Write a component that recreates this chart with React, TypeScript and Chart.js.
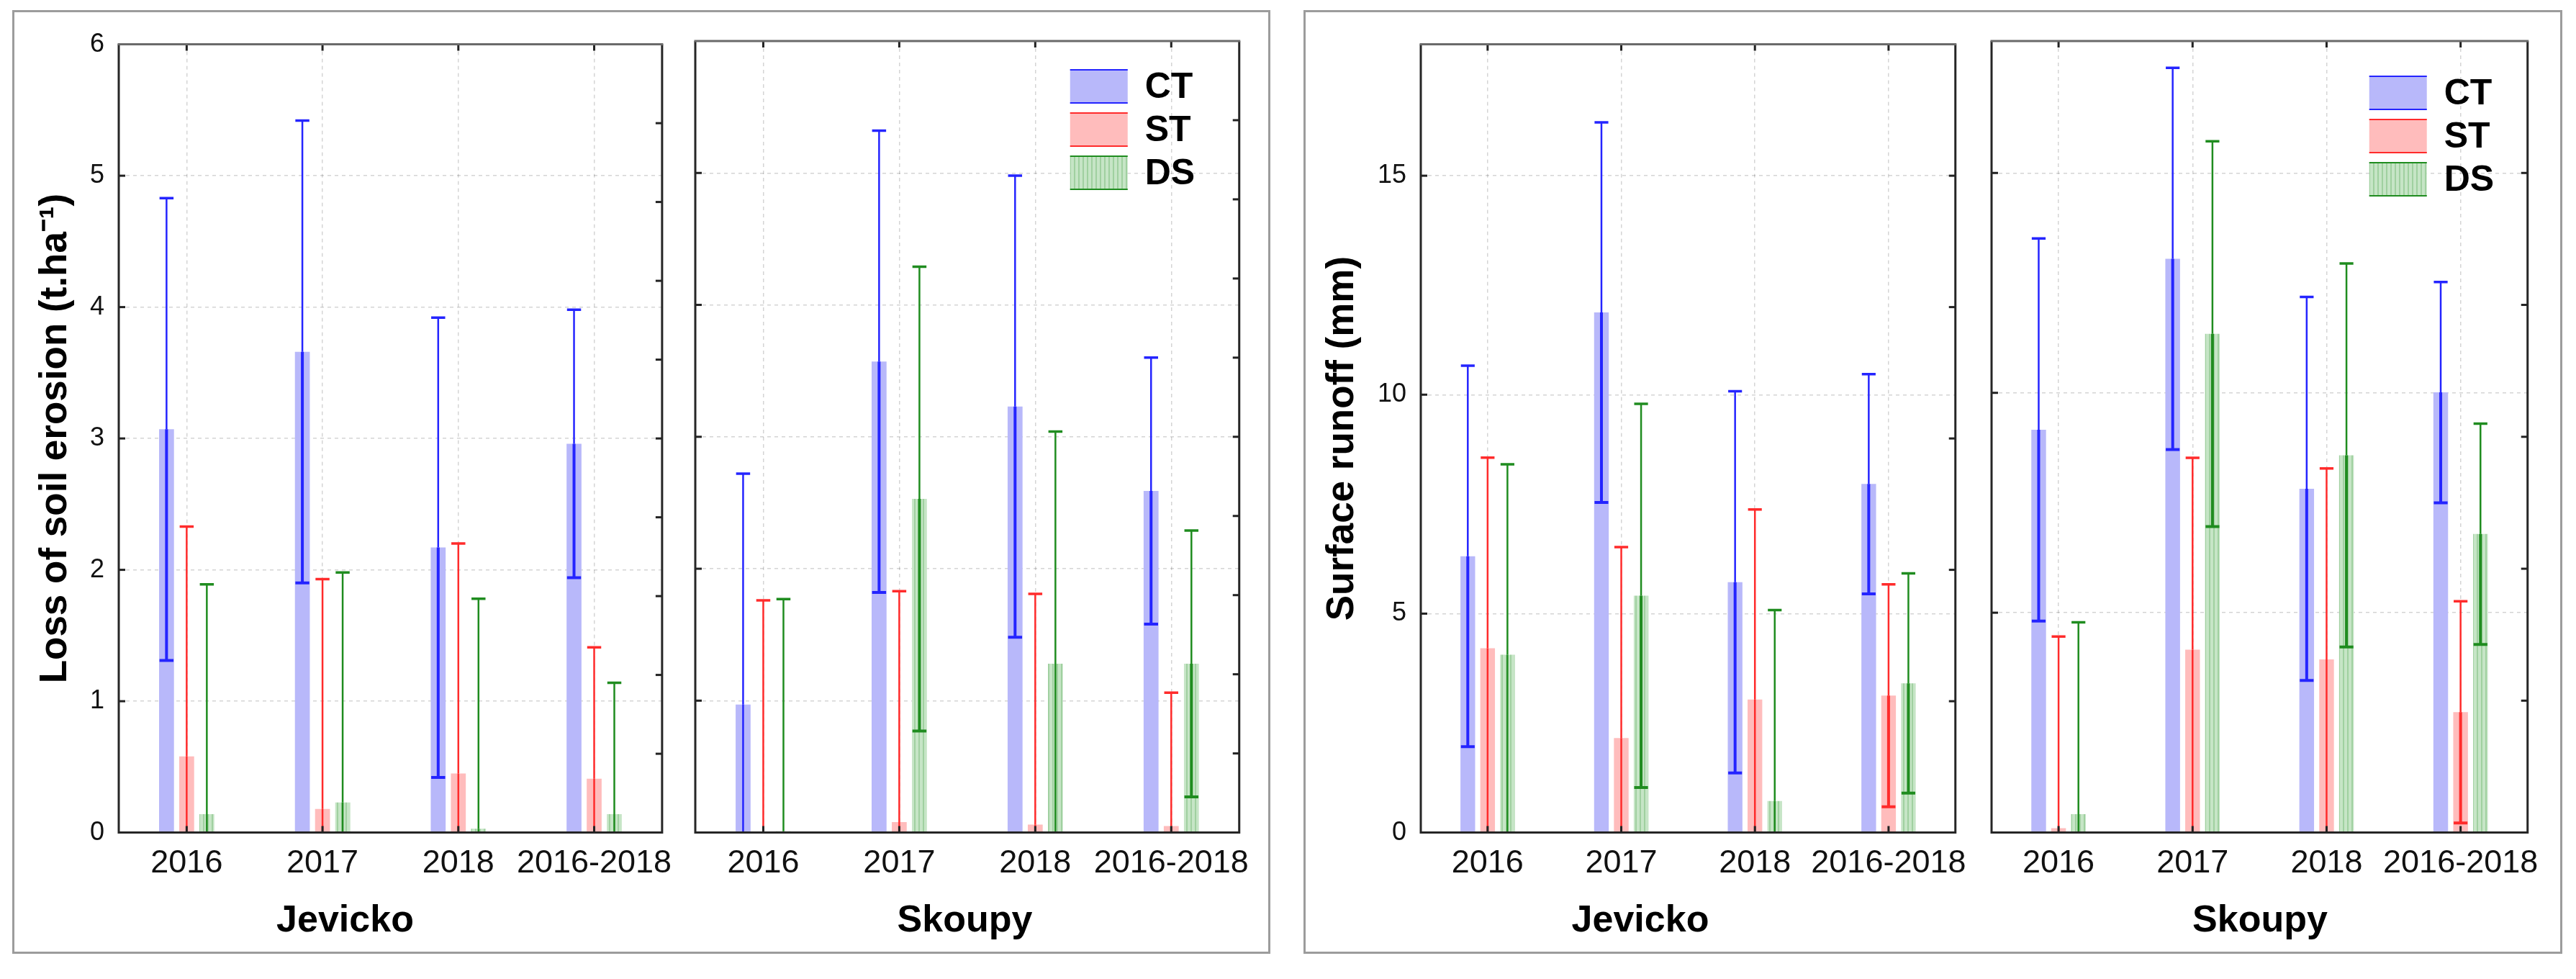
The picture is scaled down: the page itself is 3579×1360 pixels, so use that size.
import React, { useEffect, useRef } from 'react';
import { Chart, registerables } from 'chart.js';

Chart.register(...registerables);

// ---------------- DATA ----------------
const categories = ['2016', '2017', '2018', '2016-2018'];
const seriesNames = ['CT', 'ST', 'DS'];

// Loss of soil erosion (t.ha-1) — means and error half-widths
const erosionJevickoCT = [3.07, 3.66, 2.17, 2.96];
const erosionJevickoCTErr = [1.76, 1.76, 1.75, 1.02];
const erosionJevickoST = [0.58, 0.18, 0.45, 0.41];
const erosionJevickoSTErr = [1.75, 1.75, 1.75, 1.0];
const erosionJevickoDS = [0.14, 0.23, 0.03, 0.14];
const erosionJevickoDSErr = [1.75, 1.75, 1.75, 1.0];

const erosionSkoupyCT = [0.97, 3.57, 3.23, 2.59];
const erosionSkoupyCTErr = [1.75, 1.75, 1.75, 1.01];
const erosionSkoupyST = [0.0, 0.08, 0.06, 0.05];
const erosionSkoupySTErr = [1.76, 1.75, 1.75, 1.01];
const erosionSkoupyDS = [0.01, 2.53, 1.28, 1.28];
const erosionSkoupyDSErr = [1.76, 1.76, 1.76, 1.01];

// Surface runoff (mm)
const runoffJevickoCT = [6.31, 11.88, 5.72, 7.96];
const runoffJevickoCTErr = [4.35, 4.34, 4.36, 2.51];
const runoffJevickoST = [4.21, 2.16, 3.04, 3.13];
const runoffJevickoSTErr = [4.35, 4.36, 4.34, 2.54];
const runoffJevickoDS = [4.06, 5.41, 0.72, 3.41];
const runoffJevickoDSErr = [4.35, 4.38, 4.36, 2.51];

const runoffSkoupyCT = [9.16, 13.05, 7.82, 10.01];
const runoffSkoupyCTErr = [4.35, 4.34, 4.36, 2.51];
const runoffSkoupyST = [0.1, 4.16, 3.94, 2.74];
const runoffSkoupySTErr = [4.36, 4.36, 4.34, 2.52];
const runoffSkoupyDS = [0.42, 11.34, 8.58, 6.79];
const runoffSkoupyDSErr = [4.36, 4.38, 4.36, 2.51];

const erosionTitle = 'Loss of soil erosion (t.ha\u207B\u00B9)';
const runoffTitle = 'Surface runoff (mm)';
const erosionMax = 6;
const erosionStep = 1;
const runoffMax = 18;
const runoffStep = 5;

// ---------------- STYLE ----------------
const FONT = "'Liberation Sans', Arial, Helvetica, sans-serif";
const fillColors = ['rgb(184,184,250)', 'rgb(255,188,188)', 'DS_PATTERN'];
const lineColors = ['#2424ff', '#ff2b2b', '#1f8c1f'];
const gridColor = 'rgba(0,0,0,0.17)';

function makeHatch(): CanvasPattern | string {
  const c = document.createElement('canvas');
  c.width = 6;
  c.height = 6;
  const g = c.getContext('2d');
  if (!g) return 'rgb(196,228,196)';
  g.fillStyle = 'rgb(198,229,198)';
  g.fillRect(0, 0, 6, 6);
  g.fillStyle = 'rgb(160,208,160)';
  g.fillRect(0, 0, 2, 6);
  const p = g.createPattern(c, 'repeat');
  return p || 'rgb(196,228,196)';
}

// ---------------- PLUGINS ----------------
const errorBarPlugin = {
  id: 'errorBars',
  afterDatasetsDraw(chart: any) {
    const { ctx, chartArea } = chart;
    const y = chart.scales.y;
    ctx.save();
    ctx.beginPath();
    ctx.rect(chartArea.left, chartArea.top, chartArea.right - chartArea.left, chartArea.bottom - chartArea.top);
    ctx.clip();
    chart.data.datasets.forEach((ds: any, i: number) => {
      const meta = chart.getDatasetMeta(i);
      meta.data.forEach((bar: any, j: number) => {
        const m = ds.data[j];
        const e = ds.errors[j];
        const x = bar.x;
        const half = bar.width * 0.47;
        const yTop = y.getPixelForValue(m + e);
        const yMid = y.getPixelForValue(m);
        const low = m - e;
        const yLow = y.getPixelForValue(low);
        ctx.strokeStyle = ds.errorColor;
        ctx.lineCap = 'butt';
        ctx.lineWidth = 2.5;
        ctx.beginPath();
        ctx.moveTo(x, yTop);
        ctx.lineTo(x, yMid);
        ctx.stroke();
        ctx.lineWidth = low >= 0 ? 4 : 2.5;
        ctx.beginPath();
        ctx.moveTo(x, yMid);
        ctx.lineTo(x, yLow);
        ctx.stroke();
        ctx.lineWidth = 3.5;
        ctx.beginPath();
        ctx.moveTo(x - half, yTop);
        ctx.lineTo(x + half, yTop);
        ctx.stroke();
        if (low >= 0) {
          ctx.lineWidth = 4;
          ctx.beginPath();
          ctx.moveTo(x - half, yLow);
          ctx.lineTo(x + half, yLow);
          ctx.stroke();
        }
      });
    });
    ctx.restore();
  },
};

const framePlugin = {
  id: 'frameTicks',
  afterDraw(chart: any) {
    const { ctx, chartArea } = chart;
    const { left, right, top, bottom } = chartArea;
    const x = chart.scales.x;
    const y = chart.scales.y;
    const y2 = chart.scales.y2;
    const L = 9;
    ctx.save();
    ctx.strokeStyle = '#222';
    ctx.lineWidth = 3;
    // left inside ticks
    y.ticks.forEach((t: any) => {
      if (t.value <= y.min || t.value >= y.max) return;
      const p = y.getPixelForValue(t.value);
      ctx.beginPath();
      ctx.moveTo(left, p);
      ctx.lineTo(left + L, p);
      ctx.stroke();
    });
    // right inside ticks (secondary divisions)
    for (let k = y2.min + 1; k < y2.max; k++) {
      const p = y2.getPixelForValue(k);
      ctx.beginPath();
      ctx.moveTo(right - L, p);
      ctx.lineTo(right, p);
      ctx.stroke();
    }
    // top & bottom inside ticks at category centers
    x.ticks.forEach((_t: any, i: number) => {
      const p = x.getPixelForTick(i);
      ctx.beginPath();
      ctx.moveTo(p, top);
      ctx.lineTo(p, top + L);
      ctx.moveTo(p, bottom);
      ctx.lineTo(p, bottom - L);
      ctx.stroke();
    });
    // frame
    ctx.lineWidth = 3;
    ctx.strokeStyle = '#262626';
    ctx.beginPath();
    ctx.moveTo(left, top);
    ctx.lineTo(left, bottom);
    ctx.lineTo(right, bottom);
    ctx.lineTo(right, top);
    ctx.stroke();
    ctx.strokeStyle = '#6a6a6a';
    ctx.beginPath();
    ctx.moveTo(left - 1.5, top);
    ctx.lineTo(right + 1.5, top);
    ctx.stroke();
    ctx.restore();
  },
};

const legendPlugin = {
  id: 'boxLegend',
  afterDraw(chart: any, _args: any, opts: any) {
    if (!opts || !opts.show) return;
    const { ctx, chartArea } = chart;
    const bx = chartArea.right - opts.dxRight;
    const by0 = chartArea.top + opts.dyTop;
    const w = 80;
    const h = 48;
    const step = 60;
    ctx.save();
    chart.data.datasets.forEach((ds: any, i: number) => {
      const by = by0 + i * step;
      ctx.fillStyle = ds.backgroundColor;
      ctx.fillRect(bx, by, w, h);
      ctx.strokeStyle = ds.errorColor;
      ctx.lineWidth = 2;
      ctx.beginPath();
      ctx.moveTo(bx, by + 1);
      ctx.lineTo(bx + w, by + 1);
      ctx.moveTo(bx, by + h - 1);
      ctx.lineTo(bx + w, by + h - 1);
      ctx.stroke();
      ctx.fillStyle = '#000';
      ctx.font = `bold 50px ${FONT}`;
      ctx.textAlign = 'left';
      ctx.textBaseline = 'middle';
      ctx.fillText(ds.label, bx + w + 24, by + h / 2 + 2);
    });
    ctx.restore();
  },
};

// ---------------- PANELS ----------------
type PanelSpec = {
  x: number;
  w: number;
  yAxisWidth: number;
  padRight: number;
  site: string;
  yMax: number;
  yStep: number;
  rightDivs: number;
  showY: boolean;
  yTitle: string;
  yTitlePad: number;
  means: number[][];
  errs: number[][];
  legend: { show: boolean; dxRight: number; dyTop: number };
};

const PANEL_TOP = 20;
const PANEL_H = 1298;

const panels: PanelSpec[] = [
  {
    x: 30, w: 922, yAxisWidth: 135, padRight: 23, site: 'Jevicko',
    yMax: erosionMax, yStep: erosionStep, rightDivs: 10, showY: true, yTitle: erosionTitle, yTitlePad: 16,
    means: [erosionJevickoCT, erosionJevickoST, erosionJevickoDS],
    errs: [erosionJevickoCTErr, erosionJevickoSTErr, erosionJevickoDSErr],
    legend: { show: false, dxRight: 0, dyTop: 0 },
  },
  {
    x: 952, w: 802, yAxisWidth: 14, padRight: 25, site: 'Skoupy',
    yMax: erosionMax, yStep: erosionStep, rightDivs: 10, showY: false, yTitle: '', yTitlePad: 0,
    means: [erosionSkoupyCT, erosionSkoupyST, erosionSkoupyDS],
    errs: [erosionSkoupyCTErr, erosionSkoupySTErr, erosionSkoupyDSErr],
    legend: { show: true, dxRight: 235, dyTop: 39 },
  },
  {
    x: 1828, w: 922, yAxisWidth: 146, padRight: 20, site: 'Jevicko',
    yMax: runoffMax, yStep: runoffStep, rightDivs: 6, showY: true, yTitle: runoffTitle, yTitlePad: 6,
    means: [runoffJevickoCT, runoffJevickoST, runoffJevickoDS],
    errs: [runoffJevickoCTErr, runoffJevickoSTErr, runoffJevickoDSErr],
    legend: { show: false, dxRight: 0, dyTop: 0 },
  },
  {
    x: 2757, w: 788, yAxisWidth: 10, padRight: 22, site: 'Skoupy',
    yMax: runoffMax, yStep: runoffStep, rightDivs: 6, showY: false, yTitle: '', yTitlePad: 0,
    means: [runoffSkoupyCT, runoffSkoupyST, runoffSkoupyDS],
    errs: [runoffSkoupyCTErr, runoffSkoupySTErr, runoffSkoupyDSErr],
    legend: { show: true, dxRight: 220, dyTop: 48 },
  },
];

function buildConfig(spec: PanelSpec): any {
  const hatch = makeHatch();
  const datasets = seriesNames.map((name, i) => ({
    label: name,
    data: spec.means[i],
    errors: spec.errs[i],
    errorColor: lineColors[i],
    backgroundColor: fillColors[i] === 'DS_PATTERN' ? hatch : fillColors[i],
    borderWidth: 0,
    yAxisID: 'y',
    xAxisID: 'x',
  }));
  return {
    type: 'bar',
    data: { labels: categories, datasets },
    options: {
      responsive: false,
      animation: false,
      devicePixelRatio: 1,
      layout: { padding: { top: 37, right: spec.padRight, left: 0, bottom: 0 } },
      datasets: { bar: { categoryPercentage: 0.445, barPercentage: 0.74 } },
      plugins: {
        legend: { display: false },
        tooltip: { enabled: false },
        title: {
          display: true,
          position: 'bottom',
          text: spec.site,
          color: '#000',
          font: { family: FONT, size: 52, weight: 'bold', lineHeight: 1.2 },
          padding: { top: 0, bottom: 7 },
        },
        boxLegend: spec.legend,
      },
      scales: {
        x: {
          type: 'category',
          offset: true,
          grid: { offset: false, color: gridColor, lineWidth: 1.5, drawTicks: false },
          border: { display: false, dash: [5, 5] },
          ticks: { font: { family: FONT, size: 45 }, color: '#111', padding: 16, maxRotation: 0, autoSkip: false },
          afterFit: (s: any) => { s.height = 92; },
        },
        y: {
          type: 'linear',
          position: 'left',
          min: 0,
          max: spec.yMax,
          ticks: { display: spec.showY, stepSize: spec.yStep, font: { family: FONT, size: 36 }, color: '#111', padding: 20 },
          grid: { color: gridColor, lineWidth: 1.5, drawTicks: false },
          border: { display: false, dash: [5, 5] },
          title: {
            display: spec.showY,
            text: spec.yTitle,
            color: '#000',
            font: { family: FONT, size: 53, weight: 'bold', lineHeight: 1.2 },
            padding: { top: spec.yTitlePad, bottom: 0 },
          },
          afterBuildTicks: (s: any) => {
            s.ticks = s.ticks.filter((t: any) => Math.abs(t.value / spec.yStep - Math.round(t.value / spec.yStep)) < 1e-6);
          },
          afterFit: (s: any) => { s.width = spec.yAxisWidth; },
        },
        y2: {
          type: 'linear',
          position: 'right',
          display: false,
          min: 0,
          max: spec.rightDivs,
        },
      },
    },
    plugins: [errorBarPlugin, framePlugin, legendPlugin],
  };
}

function Panel({ spec }: { spec: PanelSpec }) {
  const ref = useRef<HTMLCanvasElement | null>(null);
  useEffect(() => {
    if (!ref.current) return;
    const chart = new Chart(ref.current, buildConfig(spec));
    return () => chart.destroy();
  }, [spec]);
  return (
    <canvas
      ref={ref}
      width={spec.w}
      height={PANEL_H}
      style={{ position: 'absolute', left: spec.x, top: PANEL_TOP, width: spec.w, height: PANEL_H }}
    />
  );
}

export default function App() {
  const boxStyle = (left: number, width: number): React.CSSProperties => ({
    position: 'absolute',
    left,
    top: 14,
    width,
    height: 1311,
    border: '3px solid #9c9c9c',
    boxSizing: 'border-box',
  });
  return (
    <div
      style={{
        position: 'absolute',
        left: 0,
        top: 0,
        width: 3579,
        height: 1360,
        background: '#fff',
        overflow: 'hidden',
      }}
    >
      <div style={boxStyle(17, 1748)} />
      <div style={boxStyle(1811, 1749)} />
      {panels.map((p, i) => (
        <Panel key={i} spec={p} />
      ))}
    </div>
  );
}
